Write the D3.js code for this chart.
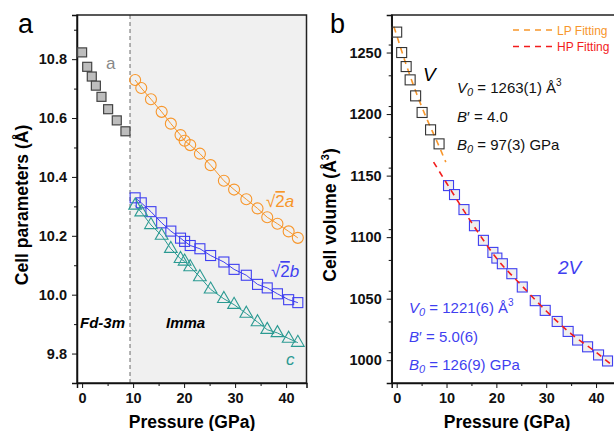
<!DOCTYPE html>
<html>
<head>
<meta charset="utf-8">
<script src="https://cdn.jsdelivr.net/npm/d3@7"></script>
<style>
  body { margin: 0; background: #fff; }
  svg { font-family: Arial, "Liberation Sans", sans-serif; }
  .tick text { font-size: 14.5px; font-weight: bold; fill: #111; }
  .tick line, .domain { stroke: #111; }
</style>
</head>
<body>
<svg width="614" height="431"></svg>
<script>
// pressures (GPa) for the cubic (Fd-3m) phase and the Imma phase
const pLow = [0, 1.0, 1.9, 2.7, 3.8, 5.1, 6.8, 8.5]
const pHigh = [10.4, 11.6, 13.5, 15.6, 17.4, 19.3, 20.1, 21.2, 23.1, 25.2, 27.8, 29.8, 32.2, 34.4, 36.3, 38.3, 40.5, 42.3]

// panel a: cell parameters (Å)
const aCubic = [10.823, 10.774, 10.741, 10.71, 10.672, 10.63, 10.592, 10.555]
const aImma = [10.729, 10.702, 10.664, 10.621, 10.581, 10.542, 10.523, 10.508, 10.479, 10.44, 10.387, 10.357, 10.324, 10.293, 10.263, 10.241, 10.215, 10.193]
const bImma = [10.329, 10.312, 10.282, 10.244, 10.216, 10.192, 10.181, 10.167, 10.156, 10.133, 10.111, 10.086, 10.066, 10.035, 10.023, 10.003, 9.983, 9.973]
const cImma = [10.303, 10.28, 10.237, 10.201, 10.156, 10.122, 10.113, 10.094, 10.06, 10.018, 9.986, 9.966, 9.936, 9.907, 9.881, 9.87, 9.851, 9.837]

// panel b: cell volume (Å^3)
const vLow = [1266.6, 1250, 1238.6, 1227.8, 1214.8, 1201.3, 1187.2, 1175.8]
const vHigh = [1141.9, 1134.6, 1122.4, 1109.3, 1097.4, 1087.6, 1083, 1078.4, 1070.3, 1059.5, 1048.4, 1040.5, 1031.5, 1023.4, 1016.4, 1010.9, 1004.3, 999.4]

// EOS fitting curves
const lpFitP = [-0.55, 0, 2, 4, 6, 8, 9.85]
const lpFitV = [1271, 1264, 1239, 1216.5, 1196.5, 1178.5, 1161]
const hpFitP = [7.4, 10, 15, 20, 25, 30, 35, 40, 43.2]
const hpFitV = [1161, 1144, 1112, 1083, 1061, 1040, 1021.5, 1006.5, 996]

const xTicks = [0, 10, 20, 30, 40]
const aTicks = [9.8, 10.0, 10.2, 10.4, 10.6, 10.8]
const vTicks = [1000, 1050, 1100, 1150, 1200, 1250]
const phaseBoundary = 9.4

const orange = "#f7962b"
const blue = "#3f3ff0"
const teal = "#2b9a92"
const red = "#f21c1c"

const svg = d3.select("svg")
const plotTop = 15, plotBottom = 383

// ---------- panel a ----------
const xA = d3.scaleLinear().domain([-1, 44]).range([77, 306.5])
const yA = d3.scaleLinear().domain([9.7, 10.95]).range([plotBottom, plotTop])

const gA = svg.append("g")

// shaded Imma region + phase boundary
gA.append("rect")
  .attr("x", xA(phaseBoundary)).attr("y", plotTop)
  .attr("width", xA(44) - xA(phaseBoundary)).attr("height", plotBottom - plotTop)
  .attr("fill", "#f0f0f0")
gA.append("line")
  .attr("x1", xA(phaseBoundary)).attr("x2", xA(phaseBoundary))
  .attr("y1", plotTop).attr("y2", plotBottom)
  .attr("stroke", "#999").attr("stroke-width", 1.5).attr("stroke-dasharray", "4,3")

// frame
gA.append("rect")
  .attr("x", xA(-1)).attr("y", plotTop)
  .attr("width", xA(44) - xA(-1)).attr("height", plotBottom - plotTop)
  .attr("fill", "none").attr("stroke", "#222").attr("stroke-width", 1.5)

function addAxes(g, x, y, yMajor, yMinorStep, yFmt) {
  const xMinor = d3.range(5, 44, 10)
  g.append("g").attr("transform", `translate(0,${plotBottom})`)
    .call(d3.axisBottom(x).tickValues(xTicks).tickSize(5).tickPadding(5))
    .call(s => s.select(".domain").attr("stroke-width", 1.5))
  g.append("g").attr("transform", `translate(0,${plotBottom})`)
    .call(d3.axisBottom(x).tickValues(xMinor).tickSize(3).tickFormat(""))
    .call(s => s.select(".domain").remove())
  const yMinor = d3.range(y.domain()[0], y.domain()[1], yMinorStep)
    .filter(v => !yMajor.some(m => Math.abs(m - v) < 1e-6))
  g.append("g").attr("transform", `translate(${x.range()[0]},0)`)
    .call(d3.axisLeft(y).tickValues(yMajor).tickSize(5).tickPadding(5).tickFormat(yFmt))
    .call(s => s.select(".domain").attr("stroke-width", 1.5))
  g.append("g").attr("transform", `translate(${x.range()[0]},0)`)
    .call(d3.axisLeft(y).tickValues(yMinor).tickSize(3).tickFormat(""))
    .call(s => s.select(".domain").remove())
}

addAxes(gA, xA, yA, aTicks, 0.1, d3.format(".1f"))

// connecting lines for Imma series
const lineA = ys => d3.line().x((d, i) => xA(pHigh[i])).y(d => yA(d))(ys)
gA.append("path").attr("d", lineA(aImma)).attr("fill", "none").attr("stroke", orange).attr("stroke-width", 1)
gA.append("path").attr("d", lineA(bImma)).attr("fill", "none").attr("stroke", blue).attr("stroke-width", 1)
gA.append("path").attr("d", lineA(cImma)).attr("fill", "none").attr("stroke", teal).attr("stroke-width", 1)

// cubic a: gray filled squares
gA.selectAll(".sqA").data(aCubic).join("rect")
  .attr("x", (d, i) => xA(pLow[i]) - 4.5).attr("y", d => yA(d) - 4.5)
  .attr("width", 9).attr("height", 9)
  .attr("fill", "#bdbdbd").attr("stroke", "#444").attr("stroke-width", 1.2)

// √2a: orange circles
gA.selectAll(".circA").data(aImma).join("circle")
  .attr("cx", (d, i) => xA(pHigh[i])).attr("cy", d => yA(d)).attr("r", 5.5)
  .attr("fill", "none").attr("stroke", orange).attr("stroke-width", 1.1)

// √2b: blue squares
gA.selectAll(".sqB").data(bImma).join("rect")
  .attr("x", (d, i) => xA(pHigh[i]) - 5).attr("y", d => yA(d) - 5)
  .attr("width", 10).attr("height", 10)
  .attr("fill", "none").attr("stroke", blue).attr("stroke-width", 1.1)

// c: teal triangles
const tri = d3.symbol().type(d3.symbolTriangle).size(70)
gA.selectAll(".triC").data(cImma).join("path")
  .attr("d", tri)
  .attr("transform", (d, i) => `translate(${xA(pHigh[i])},${yA(d)})`)
  .attr("fill", "none").attr("stroke", teal).attr("stroke-width", 1.1)

// labels panel a
svg.append("text").attr("x", 18).attr("y", 33).attr("font-size", 27).text("a")
gA.append("text").attr("x", 106).attr("y", 69).attr("font-size", 17).attr("fill", "#888").text("a")

function rootLabel(x, y, letter, color) {
  const t = gA.append("text").attr("x", x).attr("y", y).attr("font-size", 17).attr("fill", color)
  t.append("tspan").text("√")
  t.append("tspan").style("text-decoration", "overline").text("2")
  t.append("tspan").attr("font-style", "italic").text(letter)
}
rootLabel(266, 207, "a", orange)
rootLabel(271, 277, "b", blue)
gA.append("text").attr("x", 286).attr("y", 365).attr("font-size", 17)
  .attr("font-style", "italic").attr("fill", teal).text("c")

gA.append("text").attr("x", 80).attr("y", 328).attr("font-size", 15)
  .attr("font-weight", "bold").attr("font-style", "italic").text("Fd-3m")
gA.append("text").attr("x", 166).attr("y", 328).attr("font-size", 15)
  .attr("font-weight", "bold").attr("font-style", "italic").text("Imma")

gA.append("text").attr("x", 192).attr("y", 428).attr("text-anchor", "middle")
  .attr("font-size", 17.5).attr("font-weight", "bold").text("Pressure (GPa)")
gA.append("text").attr("transform", "translate(28,205) rotate(-90)").attr("text-anchor", "middle")
  .attr("font-size", 17.5).attr("font-weight", "bold").text("Cell parameters (Å)")

// ---------- panel b ----------
const xB = d3.scaleLinear().domain([-1, 44]).range([391.7, 616])
const yB = d3.scaleLinear().domain([981.5, 1280.5]).range([plotBottom, plotTop])

const gB = svg.append("g")

gB.append("rect")
  .attr("x", xB(-1)).attr("y", plotTop)
  .attr("width", xB(44) - xB(-1)).attr("height", plotBottom - plotTop)
  .attr("fill", "none").attr("stroke", "#222").attr("stroke-width", 1.5)

addAxes(gB, xB, yB, vTicks, 25, d3.format("d"))

// fitting curves
const fitLine = d3.line().x(d => xB(d[0])).y(d => yB(d[1])).curve(d3.curveMonotoneX)
gB.append("path").attr("d", fitLine(lpFitP.map((p, i) => [p, lpFitV[i]])))
  .attr("fill", "none").attr("stroke", orange).attr("stroke-width", 1.6).attr("stroke-dasharray", "6,5")

// V: open black squares
gB.selectAll(".sqV").data(vLow).join("rect")
  .attr("x", (d, i) => xB(pLow[i]) - 5).attr("y", d => yB(d) - 5)
  .attr("width", 10).attr("height", 10)
  .attr("fill", "none").attr("stroke", "#333").attr("stroke-width", 1.1)

// 2V: blue squares with light fill
gB.selectAll(".sqV2").data(vHigh).join("rect")
  .attr("x", (d, i) => xB(pHigh[i]) - 5).attr("y", d => yB(d) - 5)
  .attr("width", 10).attr("height", 10)
  .attr("fill", "#efefef").attr("stroke", blue).attr("stroke-width", 1.1)

gB.append("path").attr("d", fitLine(hpFitP.map((p, i) => [p, hpFitV[i]])))
  .attr("fill", "none").attr("stroke", red).attr("stroke-width", 1.6).attr("stroke-dasharray", "6,5")

// legend
const legend = [["LP Fitting", orange, 30], ["HP Fitting", red, 46.5]]
legend.forEach(([label, color, y]) => {
  gB.append("line").attr("x1", 513).attr("x2", 553).attr("y1", y).attr("y2", y)
    .attr("stroke", color).attr("stroke-width", 1.6).attr("stroke-dasharray", "6,5")
  gB.append("text").attr("x", 557).attr("y", y + 4.5).attr("font-size", 12).attr("fill", color).text(label)
})

// annotations
svg.append("text").attr("x", 330).attr("y", 33).attr("font-size", 27).text("b")
gB.append("text").attr("x", 423).attr("y", 81).attr("font-size", 19).attr("font-style", "italic").text("V")
gB.append("text").attr("x", 558).attr("y", 274).attr("font-size", 19).attr("font-style", "italic")
  .attr("fill", blue).text("2V")

function eosText(x, y, lines, color) {
  lines.forEach(([sym, sub, rest], i) => {
    const t = gB.append("text").attr("x", x).attr("y", y + i * 28.5).attr("font-size", 15).attr("fill", color)
    t.append("tspan").attr("font-style", "italic").text(sym)
    if (sub) t.append("tspan").attr("font-style", "italic").attr("font-size", 11).attr("dy", 3).text(sub)
    t.append("tspan").attr("dy", sub ? -3 : 0).text(rest)
    if (rest.endsWith("Å")) t.append("tspan").attr("font-size", 10).attr("dy", -7).text("3")
  })
}
eosText(457, 93, [["V", "0", " = 1263(1) Å"], ["B", "", "′ = 4.0"], ["B", "0", " = 97(3) GPa"]], "#111")
eosText(409, 313, [["V", "0", " = 1221(6) Å"], ["B", "", "′ = 5.0(6)"], ["B", "0", " = 126(9) GPa"]], blue)

gB.append("text").attr("x", 507).attr("y", 428).attr("text-anchor", "middle")
  .attr("font-size", 17.5).attr("font-weight", "bold").text("Pressure (GPa)")
const vLabel = gB.append("text").attr("transform", "translate(336,215) rotate(-90)").attr("text-anchor", "middle")
  .attr("font-size", 17.5).attr("font-weight", "bold")
vLabel.append("tspan").text("Cell volume (Å")
vLabel.append("tspan").attr("font-size", 11).attr("dy", -7).text("3")
vLabel.append("tspan").attr("dy", 7).text(")")
</script>
</body>
</html>
